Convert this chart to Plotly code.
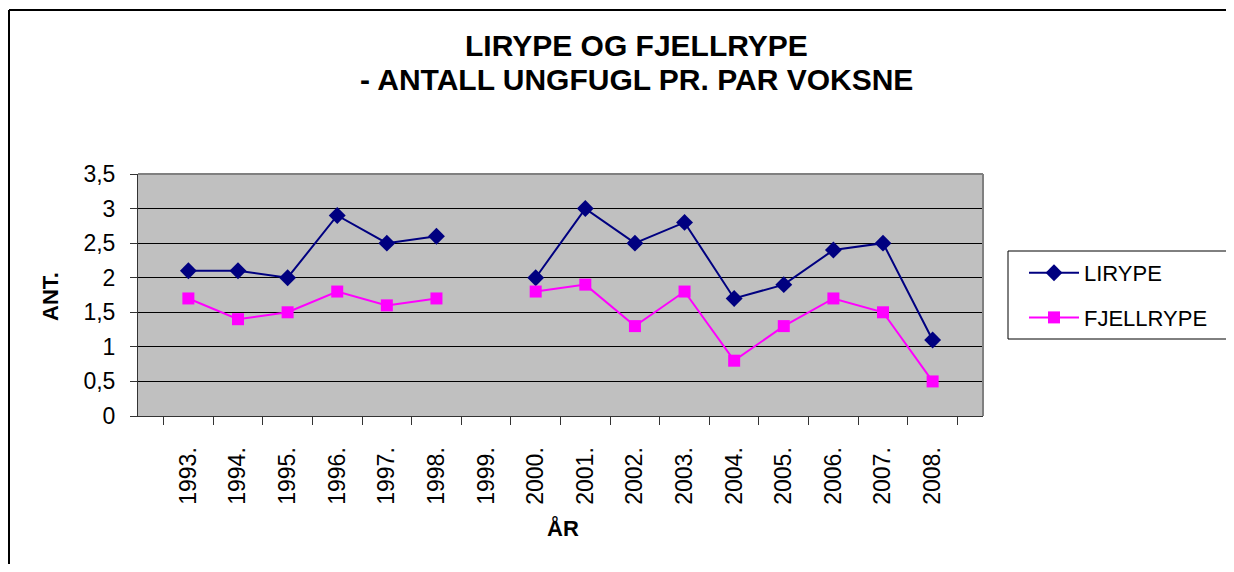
import plotly.graph_objects as go

years = ["1993.", "1994.", "1995.", "1996.", "1997.", "1998.", "1999.", "2000.",
         "2001.", "2002.", "2003.", "2004.", "2005.", "2006.", "2007.", "2008."]
lirype = [2.1, 2.1, 2.0, 2.9, 2.5, 2.6, None, 2.0, 3.0, 2.5, 2.8, 1.7, 1.9, 2.4, 2.5, 1.1]
fjellrype = [1.7, 1.4, 1.5, 1.8, 1.6, 1.7, None, 1.8, 1.9, 1.3, 1.8, 0.8, 1.3, 1.7, 1.5, 0.5]
y_ticks = [0, 0.5, 1, 1.5, 2, 2.5, 3, 3.5]

OFF = 8  # default page body margin
W, H = 1234 - OFF, 572 - 2 * OFF
# plot area in screen pixels
SL, SR, ST, SB = 138, 983, 174, 416
L, R, T, B = SL - OFF, SR - OFF, ST - OFF, SB - OFF
pw, ph = R - L, B - T


def px(x):
    return (x - SL) / pw


def py(y):
    return (SB - y) / ph


FONT = "Liberation Sans, Arial, sans-serif"

fig = go.Figure()
fig.add_trace(go.Scatter(x=years, y=lirype, name="LIRYPE", mode="lines+markers",
                         legendgroup="a",
                         line=dict(color="#000080", width=2),
                         marker=dict(symbol="diamond", size=13, color="#000080")))
fig.add_trace(go.Scatter(x=years, y=fjellrype, name="FJELLRYPE", mode="lines+markers",
                         legendgroup="b",
                         line=dict(color="#FF00FF", width=2),
                         marker=dict(symbol="square", size=12, color="#FF00FF")))


def hline(x0, x1, y, color="black", width=1):
    return dict(type="line", xref="paper", yref="paper", x0=px(x0), x1=px(x1),
                y0=py(y), y1=py(y), line=dict(color=color, width=width))


def vline(x, y0, y1, color="black", width=1):
    return dict(type="line", xref="paper", yref="paper", x0=px(x), x1=px(x),
                y0=py(y0), y1=py(y1), line=dict(color=color, width=width))


fig.update_layout(
    width=W, height=H,
    margin=dict(l=L, r=W - R, t=T, b=H - B, autoexpand=False),
    paper_bgcolor="white",
    plot_bgcolor="#C0C0C0",
    separators=",.",
    font=dict(family=FONT, size=22, color="black"),
    showlegend=True,
    legend=dict(x=px(1024), y=py(252), xanchor="left", yanchor="top",
                bgcolor="rgba(0,0,0,0)", borderwidth=0,
                font=dict(size=22), tracegroupgap=13, itemwidth=50),
    xaxis=dict(type="category", categoryorder="array", categoryarray=years,
               tickson="boundaries", ticks="outside", ticklen=8, tickcolor="#333",
               tickangle=-90, showgrid=False, showline=True, linecolor="#333",
               linewidth=1, mirror=False, tickfont=dict(size=23), zeroline=False,
               ticklabelstandoff=21),
    yaxis=dict(range=[0, 3.5], tickvals=y_ticks, ticks="outside", ticklen=7,
               tickcolor="#333", showgrid=True, gridcolor="black", gridwidth=1,
               showline=True, linecolor="#333", linewidth=1, zeroline=False,
               tickfont=dict(size=23), ticklabelstandoff=10),
    shapes=[
        # outer chart border (right and bottom edges lie outside the window)
        hline(9, 1300, 10, width=2),
        vline(9, 10, 620, width=2),
        # plot area top/right border
        dict(type="line", xref="paper", yref="paper", x0=0, x1=1, y0=1, y1=1,
             line=dict(color="#808080", width=2)),
        dict(type="line", xref="paper", yref="paper", x0=1, x1=1, y0=0, y1=1,
             line=dict(color="#808080", width=2)),
        # legend box (right edge outside the window)
        hline(1008, 1300, 251),
        hline(1008, 1300, 339),
        vline(1008, 251, 339),
    ],
    annotations=[
        dict(text="<b>LIRYPE OG FJELLRYPE</b>", xref="paper", yref="paper",
             x=px(636), y=py(45), xanchor="center", yanchor="middle",
             showarrow=False, font=dict(size=30)),
        dict(text="<b>- ANTALL UNGFUGL PR. PAR VOKSNE</b>", xref="paper", yref="paper",
             x=px(636), y=py(80), xanchor="center", yanchor="middle",
             showarrow=False, font=dict(size=30)),
        dict(text="<b>ANT.</b>", xref="paper", yref="paper", x=px(50), y=py(297),
             xanchor="center", yanchor="middle", textangle=-90, showarrow=False,
             font=dict(size=22)),
        dict(text="<b>ÅR</b>", xref="paper", yref="paper", x=px(563), y=py(528),
             xanchor="center", yanchor="middle", showarrow=False,
             font=dict(size=22)),
    ],
)

fig.write_html("out.html")
